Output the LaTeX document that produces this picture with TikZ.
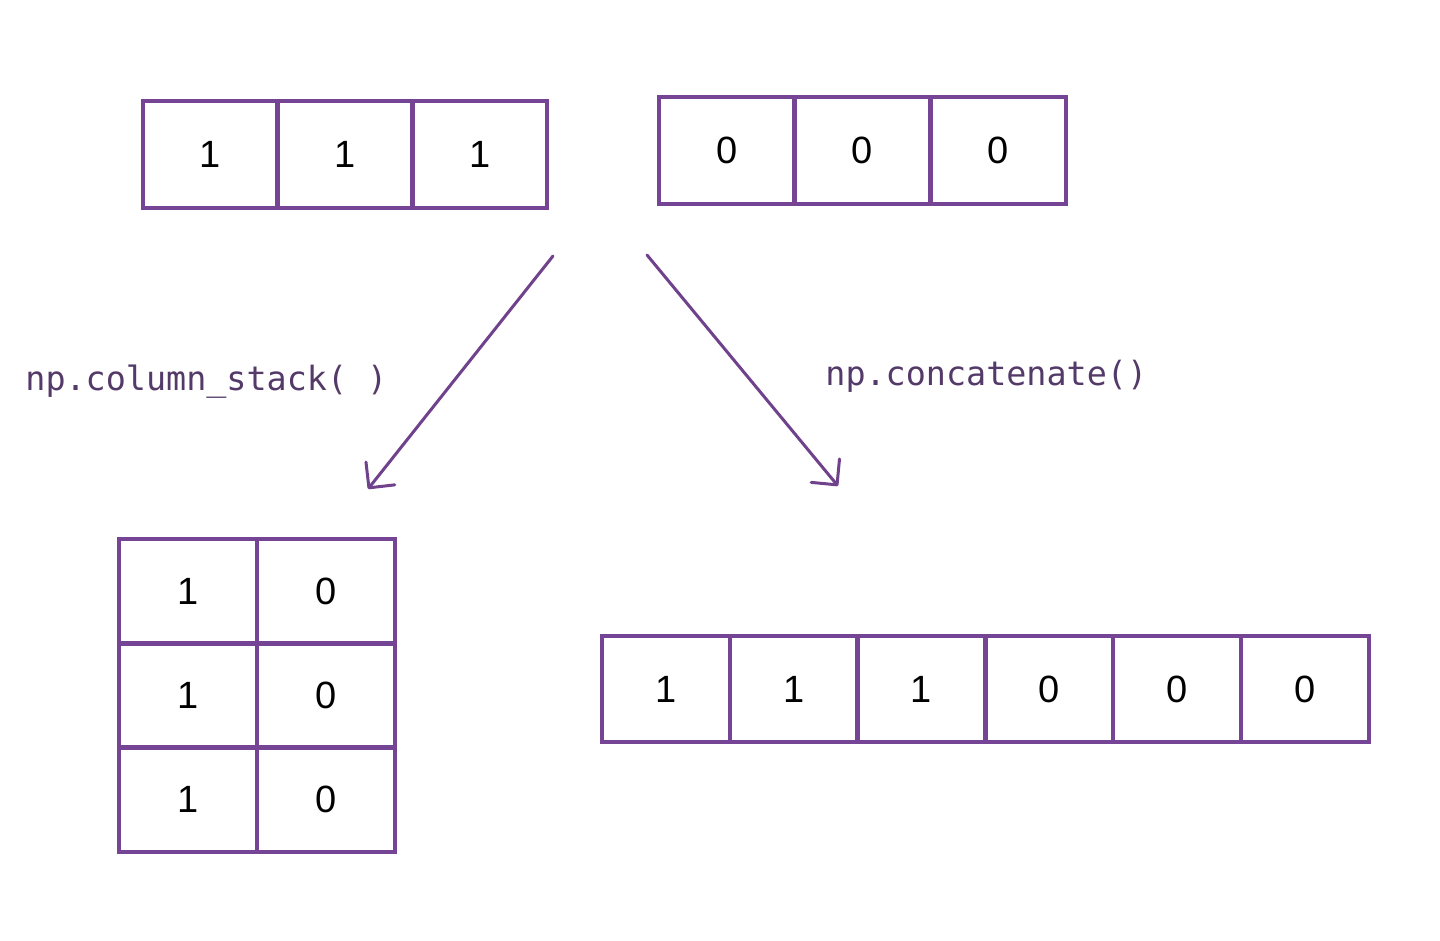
\documentclass[tikz,border=0pt]{standalone}
\usepackage{fontspec}
\setmainfont{Liberation Sans}
\newfontfamily\labelfont{DejaVu Sans Mono}
\usetikzlibrary{arrows.meta}
\definecolor{boxpurple}{RGB}{118,68,148}
\definecolor{labelpurple}{RGB}{84,58,104}
\definecolor{arrowpurple}{RGB}{112,66,140}
\begin{document}
\begin{tikzpicture}[x=0.5pt,y=-0.5pt,
  cell/.style={draw=boxpurple, line width=2.2pt, inner sep=0pt, outer sep=0pt,
    font=\fontsize{19}{22}\selectfont, text=black},
  lbl/.style={inner sep=0pt, text=labelpurple, font=\labelfont\fontsize{16.7}{20}\selectfont},
  arrowline/.style={draw=arrowpurple, line width=1.5pt, line cap=round,
    -{Straight Barb[angle=90:13pt, round]}}]
\fill[white] (0,0) rectangle (1440,941);
\useasboundingbox (0,0) rectangle (1440,941);

% top-left array [1 1 1]
\foreach \i/\v in {0/1,1/1,2/1}
  \node[cell, minimum width=67.3pt, minimum height=53.5pt] (a\i) at ({143+134.7*(\i+0.5)},154.5) {\v};

% top-right array [0 0 0]
\foreach \i/\v in {0/0,1/0,2/0}
  \node[cell, minimum width=67.8pt, minimum height=53.5pt] (b\i) at ({659+135.7*(\i+0.5)},150.5) {\v};

% column_stack result (3 x 2)
\foreach \r in {0,1,2}{
  \node[cell, minimum width=69pt, minimum height=52.2pt] (c\r0) at (188,{539+104.3*(\r+0.5)}) {1};
  \node[cell, minimum width=69pt, minimum height=52.2pt] (c\r1) at (326,{539+104.3*(\r+0.5)}) {0};
}

% concatenate result
\foreach \i/\v in {0/1,1/1,2/1,3/0,4/0,5/0}
  \node[cell, minimum width=63.9pt, minimum height=53pt] (d\i) at ({602+127.8*(\i+0.5)},689) {\v};

% arrows
\coordinate (s1) at (553,256);
\coordinate (t1) at (368,489);
\coordinate (s2) at (647,255);
\coordinate (t2) at (838,486);
\draw[arrowline] (s1) -- (t1);
\draw[arrowline] (s2) -- (t2);

% labels
\node[lbl, anchor=base west] (l1) at (25,390) {np.column\_stack( )};
\node[lbl, anchor=base west] (l2) at (825,385) {np.concatenate()};
\end{tikzpicture}
\end{document}
